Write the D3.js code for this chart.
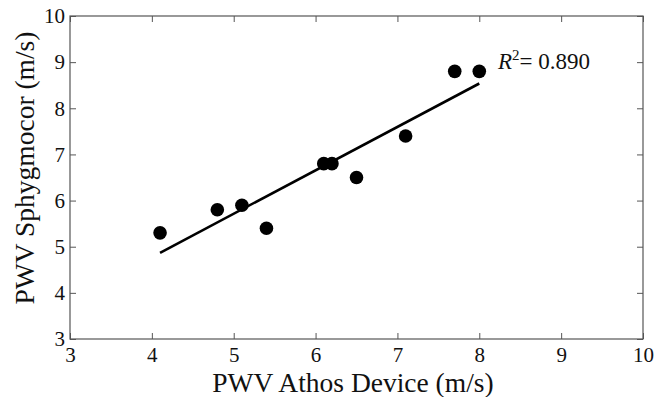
<!DOCTYPE html>
<html>
<head>
<meta charset="utf-8">
<script src="https://d3js.org/d3.v7.min.js"></script>
<style>
body { margin: 0; background: #fff; }
svg text { font-family: "Liberation Serif", "Times New Roman", serif; fill: #111; }
</style>
</head>
<body>
<div id="chart"></div>
<script>
// PWV values (m/s)
var athos = [4.1, 4.8, 5.1, 5.4, 6.1, 6.2, 6.5, 7.1, 7.7, 8.0];
var sphygmocor = [5.3, 5.8, 5.9, 5.4, 6.8, 6.8, 6.5, 7.4, 8.8, 8.8];
var xTicks = [3, 4, 5, 6, 7, 8, 9, 10];
var yTicks = [3, 4, 5, 6, 7, 8, 9, 10];

var width = 669, height = 397;
var mLeft = 70, mRight = 643, mTop = 16, mBottom = 339;

var svg = d3.select('#chart').append('svg')
  .attr('width', width).attr('height', height);

var x = d3.scaleLinear().domain([3, 10]).range([mLeft, mRight]);
var y = d3.scaleLinear().domain([3, 10]).range([mBottom, mTop]);

// least squares fit
var mx = d3.mean(athos), my = d3.mean(sphygmocor);
var sxy = 0, sxx = 0, syy = 0;
athos.forEach(function(v, i) {
  var dx = v - mx, dy = sphygmocor[i] - my;
  sxy += dx * dy; sxx += dx * dx; syy += dy * dy;
});
var slope = sxy / sxx, icpt = my - slope * mx;
var r2 = sxy * sxy / (sxx * syy);

// box axes, ticks pointing inward
var tl = 6;
function styleAxis(g) {
  g.select('.domain').remove();
  g.selectAll('.tick line').attr('stroke', '#555').attr('stroke-width', 1);
}
svg.append('g').attr('transform', 'translate(0,' + mBottom + ')')
  .call(d3.axisBottom(x).tickValues(xTicks).tickSize(-tl).tickPadding(9).tickFormat(d3.format('d')))
  .call(styleAxis)
  .selectAll('text').attr('font-size', 21).attr('dy', '0.66em');
svg.append('g').attr('transform', 'translate(0,' + mTop + ')')
  .call(d3.axisTop(x).tickValues(xTicks).tickSize(-tl).tickFormat(''))
  .call(styleAxis);
svg.append('g').attr('transform', 'translate(' + mLeft + ',0)')
  .call(d3.axisLeft(y).tickValues(yTicks).tickSize(-tl).tickPadding(12).tickFormat(d3.format('d')))
  .call(styleAxis)
  .selectAll('text').attr('font-size', 21).attr('x', -5);
svg.append('g').attr('transform', 'translate(' + mRight + ',0)')
  .call(d3.axisRight(y).tickValues(yTicks).tickSize(-tl).tickFormat(''))
  .call(styleAxis);

svg.append('rect')
  .attr('x', mLeft).attr('y', mTop)
  .attr('width', mRight - mLeft).attr('height', mBottom - mTop)
  .attr('fill', 'none').attr('stroke', '#555').attr('stroke-width', 1.2);

// regression line
var x0 = d3.min(athos), x1 = d3.max(athos);
svg.append('line')
  .attr('x1', x(x0)).attr('y1', y(icpt + slope * x0))
  .attr('x2', x(x1)).attr('y2', y(icpt + slope * x1))
  .attr('stroke', '#000').attr('stroke-width', 2.6);

// points
svg.selectAll('circle.pt').data(athos).enter().append('circle')
  .attr('class', 'pt')
  .attr('cx', function(d) { return x(d); })
  .attr('cy', function(d, i) { return y(sphygmocor[i]); })
  .attr('r', 6.8)
  .attr('fill', '#000');

// R^2 label
var lab = svg.append('text')
  .attr('x', 498).attr('y', 69)
  .attr('font-size', 23);
lab.append('tspan').attr('font-style', 'italic').text('R');
lab.append('tspan').attr('font-size', 15).attr('dy', -9).text('2');
lab.append('tspan').attr('dy', 9).text('= ' + r2.toFixed(3));

// axis titles
svg.append('text')
  .attr('x', 353).attr('y', 392)
  .attr('text-anchor', 'middle').attr('font-size', 27.5)
  .text('PWV Athos Device (m/s)');
svg.append('text')
  .attr('transform', 'translate(34,' + 168 + ') rotate(-90)')
  .attr('text-anchor', 'middle').attr('font-size', 27.5)
  .text('PWV Sphygmocor (m/s)');
</script>
</body>
</html>
